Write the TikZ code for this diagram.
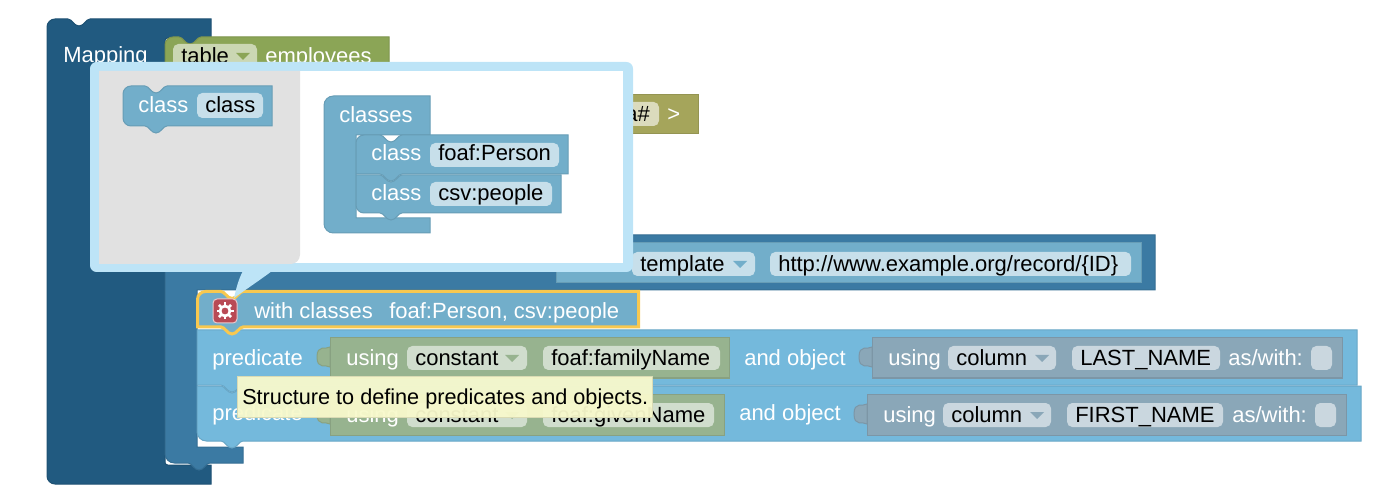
\documentclass[tikz,border=0pt]{standalone}
\usepackage{fontspec}
\setmainfont{Liberation Sans}

\definecolor{mapblue}{HTML}{215A80}
\definecolor{subjblue}{HTML}{3B7AA3}
\definecolor{classblue}{HTML}{72AECA}
\definecolor{predblue}{HTML}{74B9DC}
\definecolor{tablegreen}{HTML}{8BA556}
\definecolor{prefixolive}{HTML}{A5A55B}
\definecolor{termgreen}{HTML}{97B38F}
\definecolor{termgrey}{HTML}{8AA7B8}
\definecolor{bubbleblue}{HTML}{BDE4F7}
\definecolor{flyoutgrey}{HTML}{E1E1E1}
\definecolor{pickyellow}{HTML}{F8C84F}
\definecolor{tipyellow}{HTML}{F8F9CC}
\definecolor{gearred}{HTML}{B94A55}

\newcommand{\notchat}[2]{-- (#1,#2) .. controls (#1+4,#2) and (#1+6,#2+7) .. (#1+11,#2+7) .. controls (#1+16,#2+7) and (#1+18,#2) .. (#1+22,#2)}
\newcommand{\notchback}[2]{-- (#1+22,#2) .. controls (#1+18,#2) and (#1+16,#2+7) .. (#1+11,#2+7) .. controls (#1+6,#2+7) and (#1+4,#2) .. (#1,#2)}
\newcommand{\puzzletab}[3]{\path[block=#3] (#1,#2) .. controls (#1-4,#2+3) and (#1-13,#2-3) .. (#1-13,#2+10) .. controls (#1-13,#2+23) and (#1-4,#2+17) .. (#1,#2+20) -- cycle;}
\newcommand{\pickmark}[3]{\fill[#3] (#1,#2) -- (#1+14,#2) -- (#1+7,#2+7) -- cycle;}

\tikzset{
	block/.style={fill=#1, draw=#1!90!black, line width=.75pt},
	pill/.style={fill=#1, rounded corners=4pt},
	lbl/.style={anchor=base west, inner sep=0pt, text=white, font=\fontsize{16.5}{18}\selectfont},
	val/.style={anchor=base west, inner sep=0pt, text=black, font=\fontsize{16.5}{18}\selectfont}
}

\begin{document}
\begin{tikzpicture}[x=.75pt, y=-.75pt]
	\useasboundingbox (0,0) rectangle (1382,502);

	% outer mapping block
	\path[block=mapblue] (211,19) \notchback{68}{19} [rounded corners=6pt] -- (47,19) -- (47,484) -- (70,484) [sharp corners] -- (211,484) -- (211,465) [rounded corners=2pt] -- (165,465) -- (165,38) [sharp corners] \notchat{179}{38} -- (211,38) -- cycle;
	\node[lbl] (maplbl) at (63,63) {Mapping};

	% table row
	\path[block=tablegreen] (389,37) -- (389,78) -- (165,78) [rounded corners=6pt] -- (165,37) [sharp corners] \notchat{179}{37} -- cycle;
	\fill[pill=tablegreen!45!white] (173,44) rectangle (257,68);
	\node[val] (tablelbl) at (181,64) {table};
	\pickmark{236}{53}{tablegreen}
	\node[lbl] (employeeslbl) at (265,64) {employees};

	% prefix row, mostly under the bubble
	\path[block=prefixolive] (500,95) rectangle (698,134);
	\fill[pill=prefixolive!40!white] (560,102) rectangle (659,126);
	\node[val, anchor=base east] (prefixlbl) at (650,122) {a\#};
	\node[lbl] (closelbl) at (667,122) {>};

	% subject block
	\path[block=subjblue] (1155,235) -- (1155,290) -- (197,290) -- (197,447) -- (243,447) -- (243,463) \notchback{188}{463} [rounded corners=7pt] -- (165,463) -- (165,235) [sharp corners] -- cycle;
	\path[block=classblue] (556,243) rectangle (1141,283);
	\fill[pill=classblue!40!white] (632,252) rectangle (755,276);
	\node[val] (templatelbl) at (640,272) {template};
	\pickmark{733}{261}{classblue}
	\fill[pill=classblue!40!white] (770,252) rectangle (1131,276);
	\node[val] (urllbl) at (778,272) {http://www.example.org/record/\{ID\}};

	% second predicate row
	\path[block=predblue] (1361,386) -- (1361,441) \notchback{221}{441} [rounded corners=7pt] -- (197,441) -- (197,400) [sharp corners] -- (197,386) \notchat{221}{386} -- cycle;
	\node[lbl] (predtwolbl) at (212,420) {predicate};
	\puzzletab{330}{404}{termgreen}
	\path[block=termgreen] (330,394) rectangle (724,435);
	\node[lbl] (usingthreelbl) at (346,422) {using};
	\fill[pill=termgreen!45!white] (407,403) rectangle (527,427);
	\node[val] (constanttwolbl) at (415,422) {constant};
	\pickmark{505}{412}{termgreen}
	\fill[pill=termgreen!45!white] (543,403) rectangle (714,427);
	\node[val] (givenlbl) at (551,422) {foaf:givenName};
	\node[lbl] (objtwolbl) at (739,420) {and object};
	\puzzletab{867}{404}{termgrey}
	\path[block=termgrey] (867,394) rectangle (1346,435);
	\node[lbl] (usingfourlbl) at (883,422) {using};
	\fill[pill=termgrey!45!white] (943,403) rectangle (1051,427);
	\node[val] (columntwolbl) at (951,422) {column};
	\pickmark{1030}{412}{termgrey}
	\fill[pill=termgrey!45!white] (1067,403) rectangle (1223,427);
	\node[val] (firstlbl) at (1075,422) {FIRST\_NAME};
	\node[lbl] (astwolbl) at (1232,422) {as/with:};
	\fill[pill=termgrey!45!white] (1315,403) rectangle (1336,427);

	% first predicate row
	\path[block=predblue] (1357,330) -- (1357,385) \notchback{221}{385} -- (197,385) -- (197,330) -- cycle;
	\node[lbl] (predonelbl) at (212,365) {predicate};
	\puzzletab{330}{347}{termgreen}
	\path[block=termgreen] (330,338) rectangle (729,378);
	\node[lbl] (usingonelbl) at (346,365) {using};
	\fill[pill=termgreen!45!white] (407,346) rectangle (527,370);
	\node[val] (constantonelbl) at (415,365) {constant};
	\pickmark{505}{355}{termgreen}
	\fill[pill=termgreen!45!white] (543,346) rectangle (720,370);
	\node[val] (familylbl) at (551,365) {foaf:familyName};
	\node[lbl] (objonelbl) at (744,365) {and object};
	\puzzletab{872}{347}{termgrey}
	\path[block=termgrey] (872,338) rectangle (1342,378);
	\node[lbl] (usingtwolbl) at (888,365) {using};
	\fill[pill=termgrey!45!white] (948,346) rectangle (1056,370);
	\node[val] (columnonelbl) at (956,365) {column};
	\pickmark{1035}{355}{termgrey}
	\fill[pill=termgrey!45!white] (1072,346) rectangle (1220,370);
	\node[val] (lastlbl) at (1080,365) {LAST\_NAME};
	\node[lbl] (asonelbl) at (1228,365) {as/with:};
	\fill[pill=termgrey!45!white] (1311,346) rectangle (1332,370);

	% selected block
	\path[fill=classblue, draw=pickyellow, line width=2.25pt] (638.5,291.5) -- (638.5,327) -- (243,327) .. controls (239,327) and (237,334) .. (232,334) .. controls (227,334) and (225,327) .. (221,327) -- (197.5,327) [rounded corners=6pt] -- (197.5,291.5) [sharp corners] \notchat{221}{291.5} -- cycle;
	\node[lbl] (withlbl) at (254,319) {with classes};
	\node[lbl] (classeslistlbl) at (389,319) {foaf:Person, csv:people};
	\path[fill=gearred, draw=white!70!gearred, line width=.75pt, rounded corners=3pt] (213,299) rectangle (237,323);
	\draw[white, line width=2pt] (225,311) circle (5);
	\foreach \a in {0,45,...,315}
		\draw[white, line width=2pt] (225,311) ++(\a:5) -- ++(\a:3.5);

	% bubble
	\fill[bubbleblue] (243,271) .. controls (238,280) and (236,290) .. (234,298) .. controls (245,290) and (260,280) .. (272,271) -- cycle;
	\fill[bubbleblue, rounded corners=5pt] (90,62) rectangle (633,272);
	\fill[white] (99,71) rectangle (623,263);
	\path[fill=flyoutgrey] (99,71) -- (300,71) [rounded corners=7pt] -- (300,264) [sharp corners] -- (99,264) -- cycle;

	% flyout entry
	\path[block=classblue] (272,86) -- (272,126) \notchback{145}{126} [rounded corners=6pt] -- (123,126) -- (123,86) [sharp corners] \notchat{145}{86} -- cycle;
	\node[lbl] (flyclasslbl) at (138,113) {class};
	\fill[pill=classblue!40!white] (197,93) rectangle (263,118);
	\node[val] (flyvaluelbl) at (205,113) {class};

	% mutator workspace
	\path[block=classblue] (430,96) -- (430,135) -- (356,135) -- (356,218) -- (430,218) -- (430,233) -- (340,233) [rounded corners=7pt] -- (324,233) -- (324,96) -- (345,96) [sharp corners] -- cycle;
	\node[lbl] (classeslbl) at (339,123) {classes};
	\path[block=classblue] (561,175) -- (561,213) \notchback{380}{213} [rounded corners=6pt] -- (356,213) -- (356,185) [sharp corners] -- (356,175) \notchat{380}{175} -- cycle;
	\path[block=classblue] (568,135) -- (568,174) \notchback{380}{174} -- (356,174) [rounded corners=6pt] -- (356,135) [sharp corners] \notchat{380}{135} -- cycle;
	\node[lbl] (classonelbl) at (371,161) {class};
	\fill[pill=classblue!40!white] (430,143) rectangle (559,167);
	\node[val] (personlbl) at (438,161) {foaf:Person};
	\node[lbl] (classtwolbl) at (371,201) {class};
	\fill[pill=classblue!40!white] (430,182) rectangle (552,206);
	\node[val] (peoplelbl) at (438,201) {csv:people};

	% tooltip
	\path[fill=tipyellow, fill opacity=.95, draw=tipyellow!88!black, line width=.75pt] (237,377) rectangle (652,417);
	\node[val, font=\fontsize{16.25}{18}\selectfont] (tiplbl) at (242,404) {Structure to define predicates and objects.};
\end{tikzpicture}
\end{document}
